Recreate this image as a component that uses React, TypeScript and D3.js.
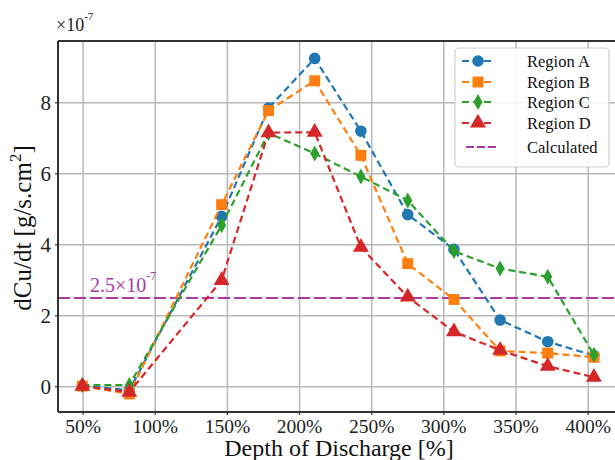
import React, { useEffect, useRef } from 'react';
import * as d3 from 'd3';

const dod = [49.5, 82, 146, 178.5, 210.5, 242.5, 275, 307, 339, 372, 404];
const regionA = [0.03, -0.1, 4.8, 7.85, 9.25, 7.2, 4.85, 3.87, 1.88, 1.27, 0.88];
const regionB = [0.02, -0.2, 5.13, 7.78, 8.62, 6.52, 3.47, 2.46, 1.01, 0.95, 0.83];
const regionC = [0.05, 0.05, 4.55, 7.15, 6.57, 5.92, 5.25, 3.82, 3.33, 3.1, 0.9];
const regionD = [0.02, -0.15, 3.0, 7.16, 7.17, 3.93, 2.53, 1.55, 1.03, 0.58, 0.27];
const calculated = 2.5;
const xTicks = [50, 100, 150, 200, 250, 300, 350, 400];
const yTicks = [0, 2, 4, 6, 8];
const seriesNames = ['Region A', 'Region B', 'Region C', 'Region D'];
const seriesColors = ['#1f77b4', '#ff7f0e', '#2ca02c', '#d62728'];
const markers = ['circle', 'square', 'diamond', 'triangle'];

const App = () => {
  const ref = useRef<SVGSVGElement | null>(null);

  useEffect(() => {
    const width = 615;
    const height = 460;
    const margin = { left: 58, top: 41, right: 615, bottom: 412 };
    const font = 'Liberation Serif';
    const purple = '#a83aa8';

    const svg = d3.select(ref.current);
    svg.selectAll('*').remove();
    svg.attr('width', width).attr('height', height).style('background', '#fff');

    const x = d3.scaleLinear().domain([32.6, 420]).range([margin.left, margin.right + 2]);
    const y = d3.scaleLinear().domain([-0.71, 9.74]).range([margin.bottom, margin.top]);

    // grid
    const grid = svg.append('g');
    xTicks.forEach(t => {
      grid.append('line')
        .attr('x1', x(t)).attr('x2', x(t))
        .attr('y1', margin.top).attr('y2', margin.bottom)
        .attr('stroke', '#b8b8b8').attr('stroke-width', 1.5);
    });
    yTicks.forEach(t => {
      grid.append('line')
        .attr('x1', margin.left).attr('x2', width)
        .attr('y1', y(t)).attr('y2', y(t))
        .attr('stroke', '#b8b8b8').attr('stroke-width', 1.5);
    });

    // calculated line
    svg.append('line')
      .attr('x1', margin.left).attr('x2', width)
      .attr('y1', y(calculated)).attr('y2', y(calculated))
      .attr('stroke', purple).attr('stroke-width', 2)
      .attr('stroke-dasharray', '12,4');

    const ann = svg.append('text')
      .attr('x', 90).attr('y', y(calculated) - 6)
      .attr('font-family', font).attr('font-size', 20)
      .attr('fill', purple);
    ann.append('tspan').text('2.5×10');
    ann.append('tspan').attr('dy', -12).attr('font-size', 12).text('-7');

    const symbolFor = (m: string) => {
      if (m === 'circle') return d3.symbol().type(d3.symbolCircle).size(105);
      if (m === 'square') return d3.symbol().type(d3.symbolSquare).size(120);
      return d3.symbol().type(d3.symbolTriangle).size(110);
    };
    const diamondPath = 'M0,-8L4.5,0L0,8L-4.5,0Z';

    const allSeries = [regionA, regionB, regionC, regionD];
    const line = d3.line<number>().x((d, i) => x(dod[i])).y(d => y(d));

    allSeries.forEach((vals, si) => {
      const g = svg.append('g');
      g.append('path')
        .datum(vals)
        .attr('d', line)
        .attr('fill', 'none')
        .attr('stroke', seriesColors[si])
        .attr('stroke-width', 2.2)
        .attr('stroke-dasharray', '7,4');
      vals.forEach((v, i) => {
        const p = g.append('path')
          .attr('transform', `translate(${x(dod[i])},${y(v)})`)
          .attr('fill', seriesColors[si]);
        if (markers[si] === 'diamond') p.attr('d', diamondPath);
        else p.attr('d', symbolFor(markers[si])() as string);
      });
    });

    // spines
    svg.append('line')
      .attr('x1', margin.left).attr('x2', width)
      .attr('y1', margin.top).attr('y2', margin.top)
      .attr('stroke', '#333').attr('stroke-width', 2);
    svg.append('line')
      .attr('x1', margin.left).attr('x2', width)
      .attr('y1', margin.bottom).attr('y2', margin.bottom)
      .attr('stroke', '#333').attr('stroke-width', 2);
    svg.append('line')
      .attr('x1', margin.left).attr('x2', margin.left)
      .attr('y1', margin.top).attr('y2', margin.bottom)
      .attr('stroke', '#333').attr('stroke-width', 2);

    // ticks and labels
    xTicks.forEach(t => {
      svg.append('line')
        .attr('x1', x(t)).attr('x2', x(t))
        .attr('y1', margin.bottom).attr('y2', margin.bottom + 3)
        .attr('stroke', '#333').attr('stroke-width', 1.2);
      svg.append('text')
        .attr('x', x(t)).attr('y', margin.bottom + 21)
        .attr('text-anchor', 'middle')
        .attr('font-family', font).attr('font-size', 19.5)
        .attr('fill', '#222')
        .text(`${t}%`);
    });
    yTicks.forEach(t => {
      svg.append('line')
        .attr('x1', margin.left - 3).attr('x2', margin.left)
        .attr('y1', y(t)).attr('y2', y(t))
        .attr('stroke', '#333').attr('stroke-width', 1.2);
      svg.append('text')
        .attr('x', margin.left - 7).attr('y', y(t) + 7)
        .attr('text-anchor', 'end')
        .attr('font-family', font).attr('font-size', 21)
        .attr('fill', '#222')
        .text(t);
    });

    const mult = svg.append('text')
      .attr('x', 56).attr('y', 31)
      .attr('font-family', font).attr('font-size', 18).attr('fill', '#222');
    mult.append('tspan').text('×10');
    mult.append('tspan').attr('dy', -11).attr('font-size', 11).text('-7');

    svg.append('text')
      .attr('x', 339).attr('y', 456)
      .attr('text-anchor', 'middle')
      .attr('font-family', font).attr('font-size', 24)
      .attr('fill', '#111')
      .text('Depth of Discharge [%]');

    const yl = svg.append('text')
      .attr('transform', `translate(31,228) rotate(-90)`)
      .attr('text-anchor', 'middle')
      .attr('font-family', font).attr('font-size', 25)
      .attr('fill', '#111');
    yl.append('tspan').text('dCu/dt [g/s.cm');
    yl.append('tspan').attr('dy', -10).attr('font-size', 17).text('2');
    yl.append('tspan').attr('dy', 10).text(']');

    // legend
    const lg = svg.append('g');
    lg.append('rect')
      .attr('x', 455).attr('y', 48).attr('width', 154).attr('height', 119)
      .attr('rx', 4)
      .attr('fill', 'rgba(255,255,255,0.85)')
      .attr('stroke', '#d0d0d0').attr('stroke-width', 1.2);
    const rowsY = [61, 82, 102, 123];
    seriesNames.forEach((name, i) => {
      lg.append('line')
        .attr('x1', 462).attr('x2', 494)
        .attr('y1', rowsY[i]).attr('y2', rowsY[i])
        .attr('stroke', seriesColors[i]).attr('stroke-width', 2.2)
        .attr('stroke-dasharray', '7,4');
      const p = lg.append('path')
        .attr('transform', `translate(478,${rowsY[i]})`)
        .attr('fill', seriesColors[i]);
      if (markers[i] === 'diamond') p.attr('d', diamondPath);
      else p.attr('d', symbolFor(markers[i])() as string);
      lg.append('text')
        .attr('x', 527).attr('y', rowsY[i] + 5.5)
        .attr('font-family', font).attr('font-size', 16.5)
        .attr('fill', '#111')
        .text(name);
    });
    lg.append('line')
      .attr('x1', 466).attr('x2', 497)
      .attr('y1', 147).attr('y2', 147)
      .attr('stroke', purple).attr('stroke-width', 2)
      .attr('stroke-dasharray', '8,3');
    lg.append('text')
      .attr('x', 527).attr('y', 152.5)
      .attr('font-family', font).attr('font-size', 16.5)
      .attr('fill', '#111')
      .text('Calculated');

    return () => {
      svg.selectAll('*').remove();
    };
  }, []);

  return (
    <div style={{ position: 'absolute', left: 0, top: 0 }}>
      <svg ref={ref} />
    </div>
  );
};

export default App;
